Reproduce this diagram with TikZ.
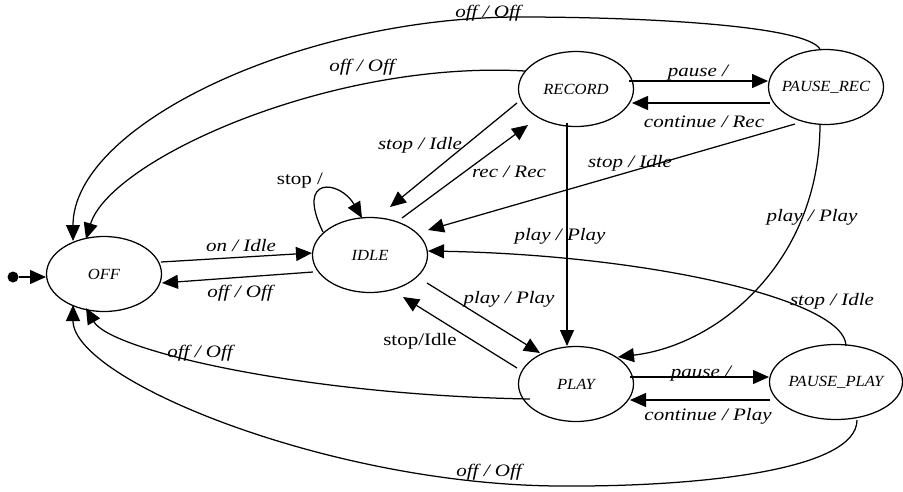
\documentclass[tikz,border=0pt]{standalone}
\usepackage{fontspec}
\setmainfont{Liberation Serif}
\newfontfamily\lblfont[FakeStretch=1.2]{Liberation Serif}
\newfontfamily\stfont[FakeStretch=1.07]{Liberation Serif}
\usetikzlibrary{arrows.meta,calc,shapes.geometric}
\tikzset{
  state/.style={ellipse, draw, line width=1.25pt, minimum width=115pt, minimum height=75pt,
    inner sep=0pt, font=\stfont\itshape\fontsize{15.5}{17}\selectfont},
  lbl/.style={anchor=base, inner sep=0pt, font=\lblfont\itshape\fontsize{17.5}{19}\selectfont},
  lblup/.style={anchor=base, inner sep=0pt, font=\lblfont\fontsize{17.5}{19}\selectfont},
  tr/.style={line width=1.25pt, -{Triangle[length=16pt,width=14pt]}},
}
\begin{document}
\begin{tikzpicture}[x=1pt,y=-1pt]
\useasboundingbox (0,0) rectangle (903,491);
% states
\node[state] (OFF) at (104,274) {\makebox[0pt]{OFF}};
\node[state] (IDLE) at (370,255) {\makebox[0pt]{IDLE}};
\node[state] (RECORD) at (576,89) {\makebox[0pt]{RECORD}};
\node[state] (PREC) at (826,87) {\makebox[0pt]{PAUSE\_REC}};
\node[state] (PLAY) at (576,384) {\makebox[0pt]{PLAY}};
\node[state, minimum width=133pt] (PPLAY) at (836,382) {\makebox[0pt]{PAUSE\_PLAY}};
\node[circle, fill, inner sep=0pt, minimum size=11pt] (init) at (13,277) {};
\coordinate (topmid) at (520,17);
\coordinate (botmid) at (560,486);
% initial
\draw[tr] (init) -- ($(OFF)+(-58,3)$);
% OFF <-> IDLE
\draw[tr] ($(OFF)+(57,-12)$) -- ($(IDLE)+(-58,-2)$);
\draw[tr] ($(IDLE)+(-57,17)$) -- ($(OFF)+(58,9)$);
% IDLE self loop
\draw[tr] ($(IDLE)+(-47,-23)$) .. controls ($(IDLE)+(-75,-80)$) and ($(IDLE)+(-30,-75)$) .. ($(IDLE)+(-8,-37)$);
% RECORD <-> IDLE
\draw[tr] ($(RECORD)+(-59,14)$) -- ($(IDLE)+(20,-48)$);
\draw[tr] ($(IDLE)+(32,-37)$) -- ($(RECORD)+(-48,36)$);
% PAUSE_REC -> IDLE
\draw[tr] ($(PREC)+(-31,37)$) -- ($(IDLE)+(58,-25)$);
% PAUSE_PLAY -> IDLE
\draw[tr] ($(PPLAY)+(10,-36)$) .. controls (846,300) and (650,255) .. ($(IDLE)+(58,-4)$);
% RECORD -> PLAY
\draw[tr] ($(RECORD)+(-9,34)$) -- ($(PLAY)+(-9,-38)$);
% PAUSE_REC -> PLAY
\draw[tr] ($(PREC)+(-6,37)$) .. controls (820,260) and (720,345) .. ($(PLAY)+(42,-27)$);
% IDLE <-> PLAY
\draw[tr] ($(IDLE)+(57,28)$) -- ($(PLAY)+(-36,-31)$);
\draw[tr] ($(PLAY)+(-59,-16)$) -- ($(IDLE)+(33,42)$);
% RECORD <-> PAUSE_REC
\draw[tr] ($(RECORD)+(53,-8)$) -- ($(PREC)+(-58,-6)$);
\draw[tr] ($(PREC)+(-56,16)$) -- ($(RECORD)+(56,14)$);
% PLAY <-> PAUSE_PLAY
\draw[tr] ($(PLAY)+(54,-7)$) -- ($(PPLAY)+(-67,-5)$);
\draw[tr] ($(PPLAY)+(-66,18)$) -- ($(PLAY)+(54,16)$);
% off transitions
\draw[tr] ($(RECORD)+(-51,-18)$) .. controls (330,60) and (110,160) .. ($(OFF)+(-18,-35)$);
\draw[tr] ($(PREC)+(-6,-38)$) .. controls (805,25) and (640,17) .. (topmid)
  .. controls (300,17) and (73,125) .. ($(OFF)+(-31,-33)$);
\draw[tr] ($(PLAY)+(-46,15)$) .. controls (300,395) and (110,350) .. ($(OFF)+(-18,34)$);
\draw[tr] ($(PPLAY)+(21,38)$) .. controls (857,470) and (700,487) .. (botmid)
  .. controls (330,485) and (73,380) .. ($(OFF)+(-31,31)$);
% labels
\node[lbl] (l1) at (241,251) {on / Idle};
\node[lbl] (l2) at (240,297) {off / Off};
\node[lblup] (l3) at (300,184) {stop /};
\node[lbl] (l4) at (420,149) {stop / Idle};
\node[lbl] (l5) at (509,177) {rec / Rec};
\node[lbl] (l6) at (630,167) {stop / Idle};
\node[lbl] (l7) at (560,240) {play / Play};
\node[lbl] (l8) at (812,221) {play / Play};
\node[lbl] (l9) at (832,305) {stop / Idle};
\node[lbl] (l10) at (509,303) {play / Play};
\node[lblup] (l11) at (420,345) {stop/Idle};
\node[lbl] (l12) at (698,76) {pause /};
\node[lbl] (l13) at (704,127) {continue / Rec};
\node[lbl] (l14) at (701,377) {pause /};
\node[lbl] (l15) at (708,420) {continue / Play};
\node[lbl] (l16) at (488,17) {off / Off};
\node[lbl] (l17) at (362,71) {off / Off};
\node[lbl] (l18) at (200,357) {off / Off};
\node[lbl] (l19) at (489,476) {off / Off};
\end{tikzpicture}
\end{document}
